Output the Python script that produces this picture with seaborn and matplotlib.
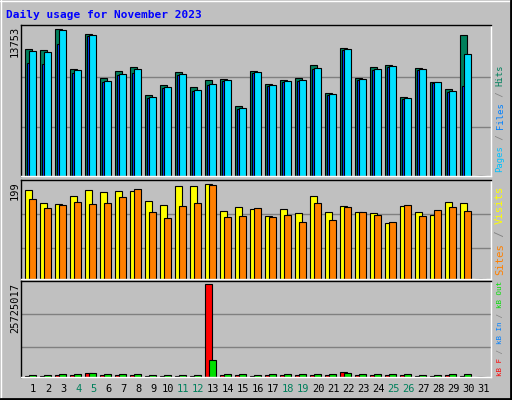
import matplotlib
matplotlib.use("Agg")
import matplotlib.pyplot as plt
import seaborn as sns
import numpy as np
from matplotlib.lines import Line2D

days = list(range(1, 32))
hits = [11879,11785,13753,10003,13285,9159,9815,10191,7565,8503,9722,8315,8972,9065,6533,
        9815,8596,8972,9159,10378,7752,11972,9159,10191,10378,7377,10097,8784,8127,13191,0]
files = [11691,11597,13660,9909,13191,8878,9534,10003,7377,8315,9534,8033,8596,8971,6345,
         9721,8502,8878,8971,10097,7658,11879,9065,10003,10284,7283,10003,8784,7940,11410,0]
pages = [10566,10472,12348,9628,13100,8780,9440,9628,7280,8220,9440,7940,8500,8880,6250,
         9630,8410,8780,8880,10000,7560,11780,8970,9910,10190,7190,9910,8690,7850,8440,0]
visits = [188,160,158,175,188,184,186,186,164,156,195,195,199,143,151,147,132,147,138,175,
          141,154,141,138,117,154,141,134,162,160,0]
sites = [169,149,156,162,158,160,173,190,141,128,154,160,197,130,132,149,130,134,119,160,
         125,151,141,134,121,156,132,145,151,143,0]
kb_f = [300000,400000,470000,470000,1130000,470000,470000,470000,300000,300000,300000,300000,
        25725017,470000,470000,300000,470000,470000,470000,470000,470000,1500000,470000,470000,
        470000,470000,300000,300000,470000,300000,0]
kb_in = [0]*31
kb_out = [563000,563000,845000,845000,1130000,845000,845000,845000,563000,563000,563000,563000,
          4600000,845000,845000,563000,845000,845000,845000,845000,845000,1130000,845000,845000,
          845000,845000,563000,563000,845000,845000,0]
weekend = [4,5,11,12,18,19,25,26]

sns.set_style("white")
BG = "#C0C0C0"
W, H = 512, 400
fig = plt.figure(figsize=(5.12, 4.0), dpi=100, facecolor=BG)
plt.rcParams['font.family'] = ['DejaVu Sans Mono', 'DejaVu Sans']

def ax_at(top, bottom):
    return fig.add_axes([21/W, (H-bottom)/H, 470/W, (bottom-top)/H])

def bars(ax, vals, off, color):
    x = np.array(days) + off
    sns.barplot(x=x, y=vals, native_scale=True, width=0.46, color=color,
                edgecolor="black", linewidth=0.8, saturation=1, ax=ax)

def style(ax, ymax, grids):
    ax.set_facecolor(BG)
    ax.set_xlim(0.333, 31.667)
    ax.set_ylim(0, ymax)
    for g in grids:
        ax.axhline(g, color="#808080", lw=1, zorder=0)
    ax.set_xticks([]); ax.set_yticks([])
    ax.set_xlabel(""); ax.set_ylabel("")
    for s in ["left", "top"]:
        ax.spines[s].set_color("black")
    for s in ["right", "bottom"]:
        ax.spines[s].set_color("white")
    for s in ax.spines.values():
        s.set_linewidth(1)

a1 = ax_at(24.7, 176)
bars(a1, hits, -0.38+0.23, "#00805C")
bars(a1, pages, -0.25+0.23, "#0040FF")
bars(a1, files, -0.12+0.23, "#00E0FF")
style(a1, 14185, [4564, 9315])

a2 = ax_at(180.3, 279)
bars(a2, visits, -0.38+0.23, "#FFFF00")
bars(a2, sites, -0.12+0.23, "#FF8000")
style(a2, 207.7, [64.9, 136.3])

a3 = ax_at(281, 377)
bars(a3, kb_f, -0.38+0.23, "#FF0000")
bars(a3, kb_in, -0.25+0.23, "#0080FF")
bars(a3, kb_out, -0.12+0.23, "#00E000")
style(a3, 26570000, [8170000, 17460000])

def fx(px): return px / W
def fy(py): return (H - py) / H

fig.text(fx(6), fy(15), "Daily usage for November 2023", color="#0000FF",
         fontsize=8, fontweight="bold", va="center", ha="left")

for lab, top in [("13753", 26), ("199", 181), ("25725017", 283)]:
    fig.text(fx(15), fy(top), lab, rotation=90, rotation_mode="anchor",
             ha="right", va="center", fontsize=7.5, color="black")

for d in days:
    fig.text(fx(33.3 + 15*(d-1)), fy(389), str(d), ha="center", va="center",
             fontsize=7.5, color="#00805C" if d in weekend else "black")

def vlabel(start_py, segs, fs):
    adv = 0.602 * fs * 100/72
    n = 0
    for txt, col in segs:
        fig.text(fx(500), fy(start_py - n*adv), txt, rotation=90, rotation_mode="anchor",
                 ha="left", va="center", fontsize=fs, color=col)
        n += len(txt)

vlabel(172, [("Pages", "#00C0FF"), (" / ", "#808080"), ("Files", "#0080FF"),
             (" / ", "#808080"), ("Hits", "#00805C")], 6.4)
vlabel(275, [("Sites", "#FF8000"), (" / ", "#808080"), ("Visits", "#FFFF00")], 7.6)
vlabel(376, [("kB F", "#FF0000"), (" / ", "#808080"), ("kB In", "#0080FF"),
             (" / ", "#808080"), ("kB Out", "#00E000")], 5.4)

fig.add_artist(Line2D([0, 1], [1-0.5/H, 1-0.5/H], color="white", lw=1, transform=fig.transFigure))
fig.add_artist(Line2D([0.5/W, 0.5/W], [0, 1], color="white", lw=1, transform=fig.transFigure))
fig.add_artist(Line2D([0, 1], [1/H, 1/H], color="black", lw=2, transform=fig.transFigure))
fig.add_artist(Line2D([1-1/W, 1-1/W], [0, 1], color="black", lw=2, transform=fig.transFigure))

fig.savefig("out.png", dpi=100, facecolor=BG)
